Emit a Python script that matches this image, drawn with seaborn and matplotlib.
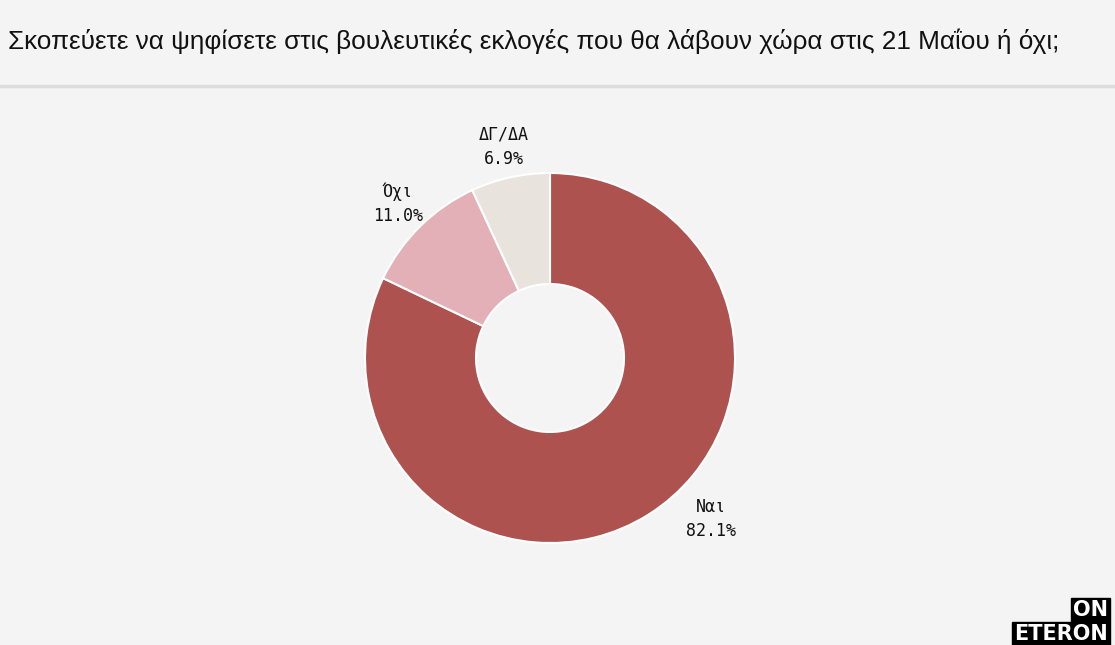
import matplotlib
matplotlib.use('Agg')
import matplotlib.pyplot as plt
import seaborn as sns
import numpy as np

# data
labels = ['Ναι', 'Όχι', 'ΔΓ/ΔΑ']
values = [82.1, 11.0, 6.9]
colors = ['#ae524f', '#e2b0b6', '#e8e3dd']
title = 'Σκοπεύετε να ψηφίσετε στις βουλευτικές εκλογές που θα λάβουν χώρα στις 21 Μαΐου ή όχι;'

bg = '#f4f4f4'
sns.set_theme(style='white', rc={'figure.facecolor': bg, 'axes.facecolor': bg})
plt.rcParams['font.family'] = ['DejaVu Sans Mono', 'DejaVu Sans']

fig = plt.figure(figsize=(11.15, 6.45), dpi=100)
fig.patch.set_facecolor(bg)

# title + separator line
fig.text(8 / 1115, 1 - 41 / 645, title, fontsize=18.8, va='center', ha='left',
         family=['Liberation Sans', 'DejaVu Sans'], color='#111111')
fig.add_artist(plt.Line2D([0, 1], [1 - 86 / 645, 1 - 86 / 645], color='#dddddd', lw=2.5))

# donut
cx, cy, r = 550, 645 - 358, 185
ax = fig.add_axes([(cx - r) / 1115, (cy - r) / 645, 2 * r / 1115, 2 * r / 645])
ax.set_facecolor(bg)
texts = [f'{l}\n{v:.1f}%' for l, v in zip(labels, values)]
wedges, txts = ax.pie(values, labels=texts, colors=colors, startangle=90, counterclock=False,
                      radius=1, labeldistance=1.17,
                      wedgeprops=dict(width=0.6, edgecolor='white', linewidth=1.5),
                      textprops=dict(fontsize=12, color='#111111', ha='center', va='center',
                                     linespacing=1.45))
# large slice label sits lower-right in the original
ang = np.deg2rad(-45)
txts[0].set_position((1.23 * np.cos(ang), 1.23 * np.sin(ang)))
for t in txts:
    t.set_ha('center')
ax.set_xlim(-1, 1)
ax.set_ylim(-1, 1)
ax.axis('off')

# logo
fig.text(1108 / 1115, 1 - 610 / 645, 'ON', fontsize=15, fontweight='bold', ha='right', va='center',
         color='white', family='DejaVu Sans',
         bbox=dict(boxstyle='square,pad=0.1', fc='black', ec='black'))
fig.text(1108 / 1115, 1 - 634 / 645, 'ETERON', fontsize=15, fontweight='bold', ha='right', va='center',
         color='white', family='DejaVu Sans',
         bbox=dict(boxstyle='square,pad=0.1', fc='black', ec='black'))

fig.savefig('out.png', dpi=100, facecolor=bg)
